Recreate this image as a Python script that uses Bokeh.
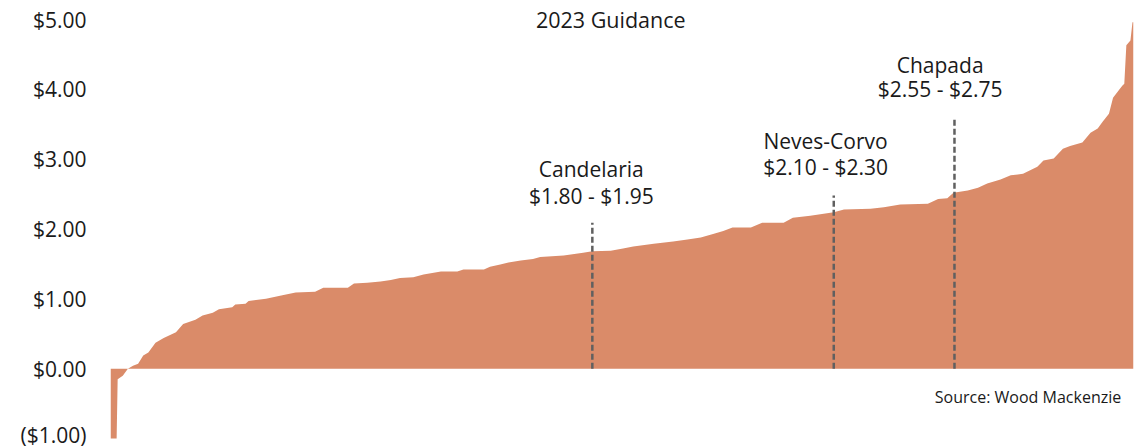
from bokeh.plotting import figure
from bokeh.models import Range1d, FixedTicker
from bokeh.core.properties import value
from bokeh.embed import file_html
from bokeh.resources import INLINE

# ---- data -------------------------------------------------------------
# cumulative production (% of total) vs. C1 cash cost (US$/lb)
cum_pct = [0.0, 0.6, 0.7, 1.2, 1.7, 2.2, 2.7, 3.2, 3.7, 4.4, 5.2, 6.4, 7.1,
           8.3, 9.0, 10.0, 10.6, 11.9, 12.2, 13.2, 13.5, 15.2, 16.8, 18.1,
           20.0, 20.8, 23.2, 23.8, 25.1, 26.4, 27.4, 28.3, 29.6, 30.6, 32.3,
           33.9, 34.5, 36.5, 37.1, 38.1, 38.9, 40.1, 41.3, 42.0, 44.3, 46.2,
           47.1, 48.9, 50.1, 51.1, 53.1, 55.0, 56.4, 57.7, 58.9, 59.9, 60.8,
           62.6, 63.7, 65.8, 66.7, 68.4, 70.7, 71.7, 74.3, 75.6, 77.2, 79.9,
           80.9, 81.8, 82.4, 83.8, 84.8, 85.7, 87.0, 88.0, 89.2, 90.6, 91.2,
           92.2, 93.1, 93.8, 95.0, 95.8, 96.5, 97.0, 97.6, 98.0, 98.9, 99.1,
           99.3, 99.7, 99.9, 100.0]
cost = [-1.00, -1.00, -0.15, -0.10, 0.00, 0.04, 0.07, 0.19, 0.23, 0.37, 0.44,
        0.52, 0.64, 0.70, 0.76, 0.80, 0.85, 0.88, 0.92, 0.93, 0.97, 1.00,
        1.05, 1.09, 1.10, 1.16, 1.16, 1.22, 1.23, 1.25, 1.27, 1.30, 1.31,
        1.35, 1.39, 1.39, 1.42, 1.42, 1.46, 1.49, 1.52, 1.55, 1.57, 1.60,
        1.62, 1.66, 1.68, 1.69, 1.72, 1.75, 1.79, 1.82, 1.85, 1.88, 1.93,
        1.97, 2.02, 2.02, 2.09, 2.09, 2.16, 2.19, 2.24, 2.28, 2.29, 2.31,
        2.35, 2.36, 2.43, 2.44, 2.52, 2.55, 2.59, 2.65, 2.71, 2.77, 2.79,
        2.89, 2.98, 3.01, 3.15, 3.19, 3.24, 3.38, 3.44, 3.54, 3.65, 3.88,
        4.05, 4.08, 4.63, 4.70, 4.96, 4.96]

mines = ["Candelaria", "Neves-Corvo", "Chapada"]
guidance = ["$1.80 - $1.95", "$2.10 - $2.30", "$2.55 - $2.75"]
mine_pct = [47.1, 70.7, 82.5]
marker_top = [2.09, 2.48, 3.57]

tick_values = [-1, 0, 1, 2, 3, 4, 5]
tick_labels = ["($1.00)", "$0.00", "$1.00", "$2.00", "$3.00", "$4.00", "$5.00"]

title_text = "2023 Guidance"
source_text = "Source: Wood Mackenzie"

# ---- layout / style ---------------------------------------------------
FONT = "Open Sans"
AREA = "#DA8B69"
DASH = "#606060"
TXT = "#1a1a1a"

W, H = 1142, 448
TOP_PX, BOT_PX = 19, 438          # pixel rows of $5.00 and ($1.00)
px_per = (BOT_PX - TOP_PX) / 6.0
y_end = 5 + TOP_PX / px_per
y_start = -1 - (H - BOT_PX) / px_per

label_x = [47.0, 69.9, 81.1]
name_y = [2.86, 3.26, 4.35]
range_y = [2.47, 2.89, 4.01]

p = figure(width=W, height=H, output_backend="svg", toolbar_location=None,
           x_range=Range1d(0, 100), y_range=Range1d(y_start, y_end),
           x_axis_location=None, min_border_left=110, min_border_right=9,
           min_border_top=0, min_border_bottom=0)
p.outline_line_color = None
p.xgrid.visible = False
p.ygrid.visible = False
p.background_fill_color = "white"
p.border_fill_color = "white"

p.varea(x=cum_pct, y1=[0] * len(cum_pct), y2=cost, fill_color=AREA,
        fill_alpha=1.0)

p.segment(x0=mine_pct, y0=[0] * len(mine_pct), x1=mine_pct, y1=marker_top,
          line_color=DASH, line_width=2.5, line_dash="6 3")

p.text(x=label_x, y=name_y, text=mines, text_font=value(FONT),
       text_font_size="21px", text_align="center", text_baseline="middle",
       text_color=TXT)
p.text(x=label_x, y=range_y, text=guidance, text_font=value(FONT),
       text_font_size="21px", text_align="center", text_baseline="middle",
       text_color=TXT)

p.text(x=[48.9], y=[5.0], text=[title_text], text_font=value(FONT),
       text_font_size="21.5px", text_align="center", text_baseline="middle",
       text_color=TXT)
p.text(x=[98.8], y=[-0.40], text=[source_text], text_font=value(FONT),
       text_font_size="16px", text_align="right", text_baseline="middle",
       text_color=TXT)

ax = p.yaxis[0]
ax.ticker = FixedTicker(ticks=tick_values)
ax.major_label_overrides = {v: l for v, l in zip(tick_values, tick_labels)}
ax.axis_line_color = None
ax.major_tick_line_color = None
ax.minor_tick_line_color = None
ax.major_tick_out = 0
ax.major_tick_in = 0
ax.major_label_standoff = 24
ax.major_label_text_font = FONT
ax.major_label_text_font_size = "21px"
ax.major_label_text_color = TXT

open("out.html", "w").write(file_html(p, INLINE))
